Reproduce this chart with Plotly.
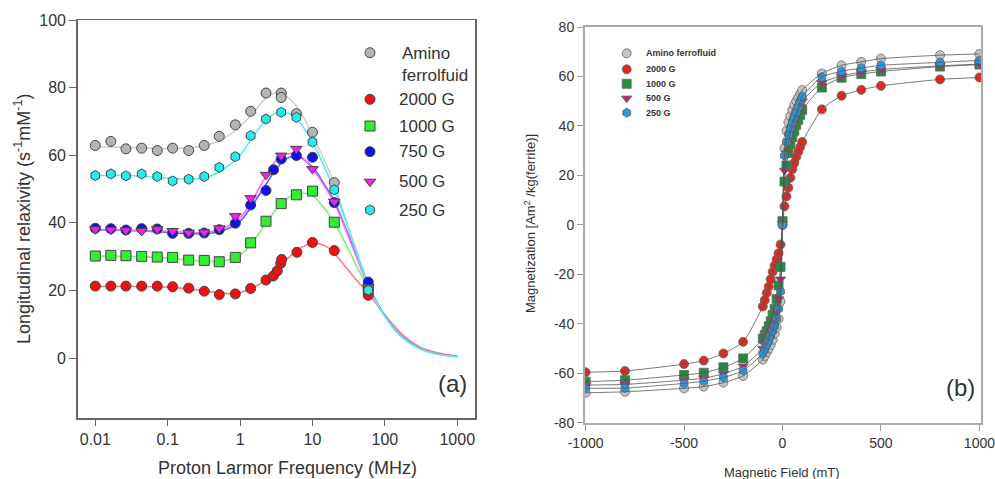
import plotly.graph_objects as go

# ---------------- Panel (a): NMRD profiles ----------------
gray_f = [0.01, 0.0164, 0.0265, 0.0437, 0.0718, 0.117, 0.195, 0.32, 0.516, 0.86, 1.4, 2.28, 3.7, 3.7, 6.0, 10, 20, 59]
gray_v = [62.9, 64.1, 61.9, 62.1, 61.4, 62.1, 61.4, 62.9, 65.6, 69.0, 73.0, 78.4, 78.4, 77.1, 72.3, 66.8, 51.9, 20.5]

red_f = [0.01, 0.0164, 0.0265, 0.0437, 0.0718, 0.117, 0.195, 0.32, 0.516, 0.86, 1.4, 2.28, 2.87, 3.26, 3.64, 3.76, 6.1, 10, 20, 59]
red_v = [21.3, 21.3, 21.3, 21.3, 21.3, 21.1, 20.7, 19.8, 18.8, 19.0, 20.6, 23.1, 24.3, 25.8, 28.0, 29.2, 31.3, 34.2, 31.8, 18.6]

green_f = [0.01, 0.0164, 0.0265, 0.0437, 0.0718, 0.117, 0.195, 0.32, 0.516, 0.86, 1.4, 2.28, 3.7, 6.0, 10, 20, 59]
green_v = [30.2, 30.4, 30.3, 30.1, 29.9, 29.8, 29.0, 28.9, 28.5, 29.8, 34.1, 40.5, 45.7, 48.3, 49.4, 40.2, 20.5]

blue_f = [0.01, 0.0164, 0.0265, 0.0437, 0.0718, 0.117, 0.195, 0.32, 0.516, 0.86, 1.4, 2.28, 2.9, 3.7, 6.0, 10, 20, 59]
blue_v = [38.4, 38.3, 37.9, 38.3, 38.2, 36.9, 36.9, 37.0, 38.0, 39.9, 45.3, 49.6, 55.7, 58.9, 59.9, 59.4, 46.0, 22.5]

magenta_f = [0.01, 0.0164, 0.0265, 0.0437, 0.0718, 0.117, 0.195, 0.32, 0.516, 0.86, 1.4, 2.28, 3.7, 6.0, 10, 20, 59]
magenta_v = [38.1, 38.0, 37.8, 37.6, 38.1, 37.6, 37.1, 37.2, 38.4, 42.0, 47.3, 54.2, 59.9, 61.9, 55.9, 46.3, 21.0]

cyan_f = [0.01, 0.0164, 0.0265, 0.0437, 0.0718, 0.117, 0.195, 0.32, 0.516, 0.86, 1.4, 2.28, 3.7, 6.0, 10, 20, 59]
cyan_v = [54.0, 54.5, 53.9, 54.5, 53.7, 52.4, 52.9, 53.7, 56.4, 59.6, 65.8, 70.7, 72.7, 71.2, 63.9, 49.8, 20.1]

# fitted curves
fit_f = [0.01, 0.03, 0.1, 0.2, 0.35, 0.6, 1, 1.5, 2.3, 3.3, 4.7, 6.5, 10, 15, 20, 30, 45, 60, 100, 170, 300, 550, 1000]
gray_fit = [62.5, 62.3, 62.0, 62.2, 63.0, 65.0, 68.5, 72.5, 77.0, 78.5, 77.0, 73.5, 66.0, 58.0, 51.5, 40.0, 29.0, 21.5, 12.5, 6.5, 3.0, 1.2, 0.5]
cyan_fit = [54.0, 54.0, 53.2, 53.0, 53.5, 56.0, 60.0, 65.5, 70.5, 72.7, 72.3, 70.0, 64.0, 56.0, 50.0, 39.5, 28.5, 21.0, 12.3, 6.3, 2.8, 1.1, 0.4]
magenta_fit = [38.0, 37.8, 37.5, 37.2, 37.2, 38.5, 41.5, 47.0, 54.0, 59.0, 60.5, 60.0, 56.0, 50.5, 46.0, 37.0, 27.5, 21.0, 12.4, 6.4, 2.9, 1.2, 0.5]
blue_fit = [38.0, 37.8, 37.2, 36.8, 36.8, 37.8, 40.5, 45.5, 51.5, 56.5, 59.3, 59.5, 56.5, 51.0, 46.5, 37.5, 28.0, 21.3, 12.5, 6.5, 2.9, 1.2, 0.5]
green_fit = [30.2, 30.1, 29.6, 29.0, 28.6, 28.8, 30.5, 34.5, 40.0, 44.5, 47.5, 48.8, 48.0, 44.0, 40.0, 33.0, 25.5, 20.5, 12.5, 6.6, 3.0, 1.3, 0.5]
red_fit = [21.2, 21.2, 21.0, 20.5, 19.8, 19.1, 19.4, 20.8, 23.2, 26.5, 29.8, 32.3, 34.0, 33.2, 31.0, 26.5, 22.0, 19.0, 12.8, 7.2, 3.4, 1.5, 0.6]

freq_ticks = [0.01, 0.1, 1, 10, 100, 1000]
freq_ticktext = ["0.01", "0.1", "1", "10", "100", "1000"]
relax_ticks = [0, 20, 40, 60, 80, 100]
left_labels = ["Amino<br>ferrolfuid", "2000 G", "1000 G", "750 G", "500 G", "250 G"]

# ---------------- Panel (b): magnetization ----------------
field = [-1000, -800, -500, -400, -300, -200, -100, -90, -80, -70, -60, -50, -40, -30, -20, -10, 0,
         10, 20, 30, 40, 50, 60, 70, 80, 90, 100, 200, 300, 400, 500, 800, 1000]
mag_gray = [-67.9, -67.5, -66.1, -65.4, -63.8, -61.1, -54.5, -53, -51.5, -50, -48.5, -46.5, -44, -41.5, -38, -31, 0,
            31, 38, 41.5, 44, 46.5, 48.5, 50, 51.5, 53, 54.5, 61.2, 64.5, 65.9, 67.2, 68.6, 69.1]
mag_red = [-59.6, -59.1, -56.3, -54.9, -52.0, -47.3, -33, -30.5, -27.5, -25, -22, -19, -16.5, -14, -11.5, -8, None,
           7.5, 11.5, 15, 19, 22.5, 25, 27.5, 29.5, 31.5, 33.5, 46.7, 52.2, 54.6, 56.2, 58.8, 59.6]
mag_green = [-63.4, -62.8, -60.7, -59.8, -57.6, -54.0, -46, -44.5, -43, -41, -39, -36.5, -34, -30, -24.5, -17, 1.5,
             17.5, 24, 29, 32.5, 35.5, 38, 40.5, 42.5, 44.5, 46.5, 55.5, 59.5, 61.0, 62.0, 64.0, 64.8]
mag_magenta = [-64.8, -64.5, -62.8, -62.0, -60.2, -57.2, -50, -48.5, -47, -45, -43, -41, -38.5, -35, -30, -22, 0.5,
               22, 29, 34, 37, 39.5, 42, 44, 46, 48, 50, 57.5, 60.2, 61.8, 62.8, 64.3, 65.0]
mag_blue = [-66.1, -66.0, -64.1, -63.2, -61.7, -59.0, -52, -50.5, -48.5, -47, -45, -43, -41, -38, -34, -27, -0.3,
            28, 33.5, 36.5, 39, 41.5, 43.5, 45.5, 47.5, 50, 52, 59.8, 62.1, 63.4, 64.5, 65.7, 66.5]

field_ticks = [-1000, -500, 0, 500, 1000]
field_ticktext = ["-1000", "-500", "0", "500", "1000"]
mag_ticks = [-80, -60, -40, -20, 0, 20, 40, 60, 80]
mag_ticktext = ["-80", "-60", "-40", "-20", "0", "20", "40", "60", "80"]
right_labels = ["Amino ferrofluid", "2000 G", "1000 G", "500 G", "250 G"]

FONT = "Liberation Sans, Arial, sans-serif"
TXT = "#333333"
OUT = "#444444"
W, H = 995, 479

def px(x):
    return x / W

def py(y):
    return 1 - y / H

fig = go.Figure()

# ----- panel (a) -----
left_series = [
    (gray_f, gray_v, gray_fit, "#b4b4b4", "#cfcfcf", "circle"),
    (red_f, red_v, red_fit, "#f01010", "#ff7b7b", "circle"),
    (green_f, green_v, green_fit, "#33ee33", "#77f577", "square"),
    (blue_f, blue_v, blue_fit, "#1010e8", "#5a5aff", "circle"),
    (magenta_f, magenta_v, magenta_fit, "#ee22ee", "#ff66ff", "triangle-down"),
    (cyan_f, cyan_v, cyan_fit, "#22eeee", "#55eeee", "hexagon"),
]
for fx, fy, fit, col, lcol, sym in left_series:
    fig.add_trace(go.Scatter(x=fit_f, y=fit, mode="lines",
                             line=dict(color=lcol, width=1.6, shape="spline", smoothing=1.0),
                             xaxis="x", yaxis="y", showlegend=False, hoverinfo="skip"))
for (fx, fy, fit, col, lcol, sym), name in zip(left_series, left_labels):
    fig.add_trace(go.Scatter(x=fx, y=fy, mode="markers", name=name, showlegend=False,
                             marker=dict(color=col, size=10, symbol=sym, line=dict(color=OUT, width=1)),
                             xaxis="x", yaxis="y"))

# ----- panel (b) -----
right_series = [
    (mag_gray, "#c4c4c4", "circle"),
    (mag_red, "#e02a22", "circle"),
    (mag_green, "#1f8f3c", "square"),
    (mag_magenta, "#c8207e", "triangle-down"),
    (mag_blue, "#2a98dc", "hexagon"),
]
for (my, col, sym), name in zip(right_series, right_labels):
    fig.add_trace(go.Scatter(x=field, y=my, mode="markers", name=name, showlegend=False,
                             marker=dict(color=col, size=9, symbol=sym, line=dict(color="#666666", width=0.8)),
                             xaxis="x2", yaxis="y2"))
for my, col, sym in right_series:
    fig.add_trace(go.Scatter(x=field, y=my, mode="lines", connectgaps=True,
                             line=dict(color="#555555", width=0.8, shape="spline", smoothing=0.6),
                             xaxis="x2", yaxis="y2", showlegend=False, hoverinfo="skip"))

# ----- legend keys (drawn on a pixel-coordinate overlay) -----
annotations = []
left_key_y = [52.7, 99.3, 126, 151.7, 181.7, 210]
for (fx, fy, fit, col, lcol, sym), name, ky in zip(left_series, left_labels, left_key_y):
    fig.add_trace(go.Scatter(x=[370], y=[ky], mode="markers", showlegend=False, hoverinfo="skip",
                             marker=dict(color=col, size=10, symbol=sym, line=dict(color=OUT, width=1)),
                             xaxis="x3", yaxis="y3"))
    if "<br>" in name:
        annotations.append(dict(text=name, x=px(400), y=py(42), xanchor="left", yanchor="top", align="left",
                                xref="paper", yref="paper", showarrow=False,
                                font=dict(size=17, color=TXT, family=FONT)))
    else:
        annotations.append(dict(text=name, x=px(397), y=py(ky), xanchor="left", yanchor="middle",
                                xref="paper", yref="paper", showarrow=False,
                                font=dict(size=17, color=TXT, family=FONT)))

right_key_y = [53.3, 69.3, 83.8, 98.3, 112.7]
for (my, col, sym), name, ky in zip(right_series, right_labels, right_key_y):
    fig.add_trace(go.Scatter(x=[626.7], y=[ky], mode="markers", showlegend=False, hoverinfo="skip",
                             marker=dict(color=col, size=9, symbol=sym, line=dict(color="#666666", width=0.8)),
                             xaxis="x3", yaxis="y3"))
    annotations.append(dict(text=name, x=px(644), y=py(ky), xanchor="left", yanchor="middle",
                            xref="paper", yref="paper", showarrow=False,
                            font=dict(size=9, color=TXT, family=FONT, weight="bold")))

def title(text, x, y, size, angle=0):
    return dict(text=text, x=px(x), y=py(y), xanchor="center", yanchor="middle", xref="paper", yref="paper",
                showarrow=False, textangle=angle, font=dict(size=size, color=TXT, family=FONT))

annotations += [
    title("Proton Larmor Frequency (MHz)", 287, 468, 18),
    title("Longitudinal relaxivity (s<sup>-1</sup>mM<sup>-1</sup>)", 22, 219, 18, -90),
    title("(a)", 452, 383, 24),
    title("Magnetic Field (mT)", 782, 472, 13),
    title("Magnetization [Am<sup>2</sup> /kg(ferrite)]", 530, 224, 13, -90),
    title("(b)", 960, 387, 24),
]

axis_common = dict(showgrid=False, zeroline=False, showline=True, mirror=True, ticks="outside",
                   automargin=False, ticklabeloverflow="allow")

fig.update_layout(
    width=W, height=H, autosize=False,
    margin=dict(l=0, r=0, t=0, b=0),
    paper_bgcolor="white", plot_bgcolor="rgba(0,0,0,0)",
    font=dict(family=FONT, color=TXT),
    showlegend=False,
    xaxis=dict(**axis_common, type="log", domain=[px(77.7), px(475)], range=[-2.243, 3.245],
               tickvals=freq_ticks, ticktext=freq_ticktext, linecolor="#666666", linewidth=1.5,
               tickcolor="#666666", ticklen=6, tickfont=dict(size=16, color=TXT), anchor="y"),
    yaxis=dict(**axis_common, domain=[py(418), py(20)], range=[-17.7, 100], tickvals=relax_ticks,
               linecolor="#666666", linewidth=1.5, tickcolor="#666666", ticklen=7,
               tickfont=dict(size=16, color=TXT), anchor="x"),
    xaxis2=dict(**axis_common, domain=[px(585), px(981)], range=[-1003, 1008], tickvals=field_ticks,
                ticktext=field_ticktext, linecolor="#aaaaaa", linewidth=2, tickcolor="#999999", ticklen=6,
                tickfont=dict(size=14, color=TXT), anchor="y2"),
    yaxis2=dict(**axis_common, domain=[py(422.7), py(27)], range=[-80, 80], tickvals=mag_ticks,
                ticktext=mag_ticktext, linecolor="#aaaaaa", linewidth=2, tickcolor="#999999", ticklen=6,
                tickfont=dict(size=14, color=TXT), anchor="x2"),
    xaxis3=dict(domain=[0, 1], range=[0, W], visible=False, fixedrange=True, anchor="y3"),
    yaxis3=dict(domain=[0, 1], range=[H, 0], visible=False, fixedrange=True, anchor="x3"),
    annotations=annotations,
)

fig.write_html("out.html", config={"displayModeBar": False, "staticPlot": True},
               post_script="document.body.style.margin='0px';document.body.style.overflow='hidden';")
